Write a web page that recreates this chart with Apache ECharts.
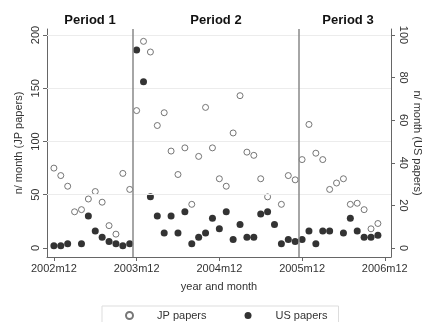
<!DOCTYPE html>
<html>
<head>
<meta charset="utf-8">
<script src="https://cdn.jsdelivr.net/npm/echarts@6/dist/echarts.min.js"></script>
<style>
  html, body { margin: 0; padding: 0; background: #fff; }
  #chart { width: 423px; height: 322px; }
</style>
</head>
<body>
<div id="chart"></div>
<script>
// month index 0 = 2002m12 ... 47 = 2006m11
const jpPapers = [
  75, 68, 58, 34, 36, 46, 53, 43, 21, 13, 70, 55,
  129, 194, 184, 115, 127, 91, 69, 94, 41, 86, 132, 94,
  65, 58, 108, 143, 90, 87, 65, 48, null, 41, 68, 64,
  83, 116, 89, 83, 55, 61, 65, 41, 42, 36, 18, 23
]
const usPapers = [
  1, 1, 2, null, 2, 15, 8, 5, 3, 2, 1, 2,
  93, 78, 24, 15, 7, 15, 7, 17, 2, 5, 7, 14,
  9, 17, 4, 11, 5, 5, 16, 17, 11, 2, 4, 3,
  4, 8, 2, 8, 8, null, 7, 14, 8, 5, 5, 6
]
const xTicks = [0, 12, 24, 36, 48]
const jpTicks = [0, 50, 100, 150, 200]
const usTicks = [0, 20, 40, 60, 80, 100]
const periodBreaks = [11.5, 35.5]
const periodNames = ['Period 1', 'Period 2', 'Period 3']

const chart = echarts.init(document.getElementById('chart'))
const font = 'Liberation Sans, Arial, sans-serif'

const monthLabel = (v) => (2002 + v / 12) + 'm12'

const option = {
  backgroundColor: '#fff',
  animation: false,
  textStyle: { fontFamily: font },
  grid: { left: 47, right: 32, top: 29, bottom: 65, containLabel: false, outerBoundsMode: 'none' },
  graphic: [
    { type: 'text', x: 90, y: 20, style: { text: periodNames[0], font: 'bold 13px ' + font, fill: '#111', textAlign: 'center', textVerticalAlign: 'middle' } },
    { type: 'text', x: 216, y: 20, style: { text: periodNames[1], font: 'bold 13px ' + font, fill: '#111', textAlign: 'center', textVerticalAlign: 'middle' } },
    { type: 'text', x: 348, y: 20, style: { text: periodNames[2], font: 'bold 13px ' + font, fill: '#111', textAlign: 'center', textVerticalAlign: 'middle' } }
  ],
  legend: {
    left: 102,
    top: 306,
    padding: [4, 11, 4, 23],
    itemGap: 38,
    itemWidth: 7,
    itemHeight: 7,
    borderColor: '#ddd',
    borderWidth: 1,
    formatter: (name) => '{t|' + name + '}',
    textStyle: {
      color: '#333',
      fontSize: 11,
      rich: { t: { fontSize: 11, color: '#333', padding: [0, 0, 0, 19] } }
    },
    data: ['JP papers', 'US papers']
  },
  xAxis: {
    type: 'value',
    min: -1,
    max: 48.9,
    name: 'year and month',
    nameLocation: 'middle',
    nameGap: 24,
    nameMoveOverlap: false,
    nameTextStyle: { color: '#333', fontSize: 11 },
    axisLine: { show: true, onZero: false, lineStyle: { color: '#666' } },
    axisTick: { show: true, length: 4, customValues: xTicks, lineStyle: { color: '#666' } },
    axisLabel: { customValues: xTicks, formatter: monthLabel, color: '#333', fontSize: 11, margin: 6 },
    splitLine: { show: false }
  },
  yAxis: [
    {
      type: 'value',
      min: -8.45,
      max: 205.6,
      position: 'left',
      name: 'n/ month (JP papers)',
      nameLocation: 'middle',
      nameGap: 23,
      nameMoveOverlap: false,
      nameTextStyle: { color: '#333', fontSize: 11 },
      axisLine: { show: true, onZero: false, lineStyle: { color: '#666' } },
      axisTick: { show: true, length: 4, customValues: jpTicks, lineStyle: { color: '#666' } },
      axisLabel: { customValues: jpTicks, rotate: 90, color: '#333', fontSize: 11, margin: 6 },
      splitLine: { show: false }
    },
    {
      type: 'value',
      min: -4.23,
      max: 102.8,
      position: 'right',
      name: 'n/ month (US papers)',
      nameLocation: 'middle',
      nameRotate: -90,
      nameGap: 21,
      nameMoveOverlap: false,
      nameTextStyle: { color: '#333', fontSize: 11 },
      axisLine: { show: true, onZero: false, lineStyle: { color: '#666' } },
      axisTick: { show: true, length: 4, customValues: usTicks, lineStyle: { color: '#666' } },
      axisLabel: { customValues: usTicks, rotate: -90, color: '#333', fontSize: 11, margin: 7 },
      splitLine: { show: false }
    }
  ],
  series: [
    {
      name: 'JP papers',
      type: 'scatter',
      yAxisIndex: 0,
      symbol: 'circle',
      symbolSize: 6,
      itemStyle: { color: '#fff', borderColor: '#555', borderWidth: 1 },
      data: jpPapers.map((v, i) => [i, v]).filter((d) => d[1] != null),
      markLine: {
        silent: true,
        symbol: 'none',
        label: { show: false },
        data: [
          ...jpTicks.slice(1).map((v) => ({ yAxis: v, lineStyle: { color: '#ececec', width: 1, type: 'solid' } })),
          ...periodBreaks.map((v) => ({ xAxis: v, lineStyle: { color: '#888', width: 1.5, type: 'solid' } }))
        ]
      }
    },
    {
      name: 'US papers',
      type: 'scatter',
      yAxisIndex: 1,
      symbol: 'circle',
      symbolSize: 7,
      itemStyle: { color: '#000' },
      data: usPapers.map((v, i) => [i, v]).filter((d) => d[1] != null)
    }
  ]
}

chart.setOption(option)
</script>
</body>
</html>
